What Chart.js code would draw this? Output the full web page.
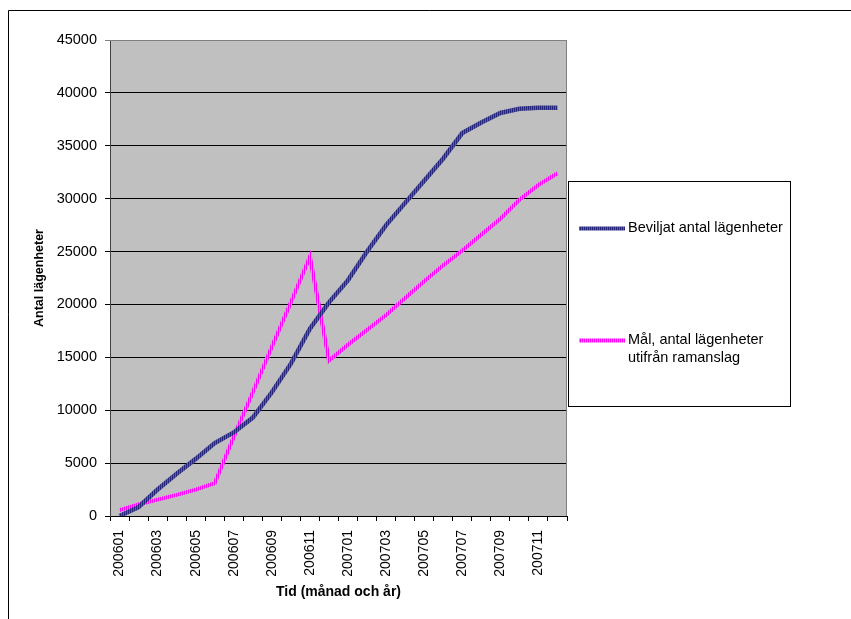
<!DOCTYPE html>
<html>
<head>
<meta charset="utf-8">
<script src="https://cdn.jsdelivr.net/npm/chart.js@4.4.0/dist/chart.umd.min.js"></script>
<style>
  html, body { margin: 0; padding: 0; background: #fff; overflow: hidden; }
  canvas { display: block; }
</style>
</head>
<body>
<canvas id="c" width="851" height="619"></canvas>
<script>
// Months (YYYYMM)
const months = [
  '200601','200602','200603','200604','200605','200606',
  '200607','200608','200609','200610','200611','200612',
  '200701','200702','200703','200704','200705','200706',
  '200707','200708','200709','200710','200711','200712'
];
// Cumulative number of approved apartments
const beviljat = [
  0, 850, 2500, 4000, 5400, 6900,
  7900, 9300, 11700, 14400, 17700, 20200,
  22300, 25000, 27500, 29600, 31700, 33800,
  36200, 37200, 38100, 38500, 38600, 38600
];
// Target number of apartments based on the budget frame
const malRamanslag = [
  550, 1100, 1550, 2000, 2500, 3100,
  7500, 11700, 16000, 20200, 24500, 14700,
  16200, 17600, 19000, 20600, 22200, 23700,
  25100, 26600, 28100, 29900, 31300, 32400
];
const yMin = 0, yMax = 45000, yStep = 5000;
const seriesNames = ['Beviljat antal lägenheter', 'Mål, antal lägenheter\nutifrån ramanslag'];

const FONT = "'Liberation Sans', Arial, sans-serif";
const canvas = document.getElementById('c');
const ctx0 = canvas.getContext('2d');

// Thin vertical stripes give the lines their hatched look
function stripes(a, b) {
  const t = document.createElement('canvas');
  t.width = 2; t.height = 1;
  const g = t.getContext('2d');
  g.fillStyle = a; g.fillRect(0, 0, 1, 1);
  g.fillStyle = b; g.fillRect(1, 0, 1, 1);
  return ctx0.createPattern(t, 'repeat');
}
const blueStroke = stripes('#25257C', '#5A5AB6');
const pinkStroke = stripes('#FF00FF', '#FF7AFF');

const frame = {
  id: 'frame',
  beforeDraw(chart) {
    const { ctx, chartArea: a } = chart;
    ctx.save();
    ctx.fillStyle = '#ffffff';
    ctx.fillRect(0, 0, chart.width, chart.height);
    ctx.fillStyle = '#C0C0C0';
    ctx.fillRect(a.left, a.top, a.right - a.left, a.bottom - a.top);
    ctx.restore();
  },
  afterDraw(chart) {
    const { ctx, chartArea: a } = chart;
    ctx.save();
    // plot area outline (top and right)
    ctx.strokeStyle = '#808080';
    ctx.lineWidth = 1;
    ctx.beginPath();
    ctx.moveTo(a.left, a.top + 0.5);
    ctx.lineTo(a.right - 0.5, a.top + 0.5);
    ctx.lineTo(a.right - 0.5, a.bottom);
    ctx.stroke();

    // outer chart frame
    ctx.strokeStyle = '#000';
    ctx.beginPath();
    ctx.moveTo(8.5, chart.height);
    ctx.lineTo(8.5, 10.5);
    ctx.lineTo(chart.width, 10.5);
    ctx.stroke();

    // legend
    const bx = 568.5, by = 181.5, bw = 222, bh = 225;
    ctx.fillStyle = '#fff';
    ctx.fillRect(bx, by, bw, bh);
    ctx.strokeStyle = '#000';
    ctx.strokeRect(bx, by, bw, bh);
    const rows = [228.5, 340.5];
    ctx.font = '14.5px ' + FONT;
    ctx.textBaseline = 'middle';
    ctx.textAlign = 'left';
    chart.data.datasets.forEach((ds, i) => {
      const y = rows[i];
      ctx.strokeStyle = ds.borderColor;
      ctx.lineWidth = 4;
      ctx.beginPath();
      ctx.moveTo(579, y);
      ctx.lineTo(625, y);
      ctx.stroke();
      ctx.fillStyle = '#000';
      ds.label.split('\n').forEach((line, k) => {
        ctx.fillText(line, 628, y - 1 + k * 18);
      });
    });
    ctx.restore();
  }
};

new Chart(canvas, {
  type: 'line',
  data: {
    labels: months,
    datasets: [
      {
        label: seriesNames[0],
        data: beviljat,
        borderColor: blueStroke,
        borderWidth: 4.5,
        pointRadius: 0,
        tension: 0,
        fill: false
      },
      {
        label: seriesNames[1],
        data: malRamanslag,
        borderColor: pinkStroke,
        borderWidth: 4,
        pointRadius: 0,
        tension: 0,
        fill: false
      }
    ]
  },
  options: {
    responsive: false,
    animation: false,
    events: [],
    layout: { padding: { left: 0, top: 40, right: 284, bottom: 0 } },
    plugins: {
      legend: { display: false },
      tooltip: { enabled: false },
      title: { display: false }
    },
    scales: {
      x: {
        type: 'category',
        offset: true,
        afterFit(s) { s.height = 103; },
        grid: {
          offset: true,
          drawOnChartArea: false,
          drawTicks: true,
          tickLength: 5,
          color: '#000'
        },
        border: { color: '#000', width: 1 },
        ticks: {
          autoSkip: false,
          maxRotation: 90,
          minRotation: 90,
          padding: 9,
          color: '#000',
          font: { family: FONT, size: 14 },
          callback(v, i) { return i % 2 === 0 ? months[i] : ''; }
        },
        title: {
          display: true,
          text: 'Tid (månad och år)',
          color: '#000',
          font: { family: FONT, size: 14, weight: 'bold' },
          padding: { top: 0, bottom: 18.6 }
        }
      },
      y: {
        min: yMin,
        max: yMax,
        afterFit(s) { s.width = 110; },
        grid: {
          drawTicks: true,
          tickLength: 5,
          color: (c) => (c.tick && c.tick.value === yMax ? '#808080' : '#000')
        },
        border: { color: '#404040', width: 1 },
        ticks: {
          stepSize: yStep,
          padding: 8,
          color: '#000',
          font: { family: FONT, size: 14.5 },
          callback: (v) => String(v)
        },
        title: {
          display: true,
          text: 'Antal lägenheter',
          color: '#000',
          font: { family: FONT, size: 12.5, weight: 'bold' },
          padding: { top: 32.5, bottom: 0 }
        }
      }
    }
  },
  plugins: [frame]
});
</script>
</body>
</html>
